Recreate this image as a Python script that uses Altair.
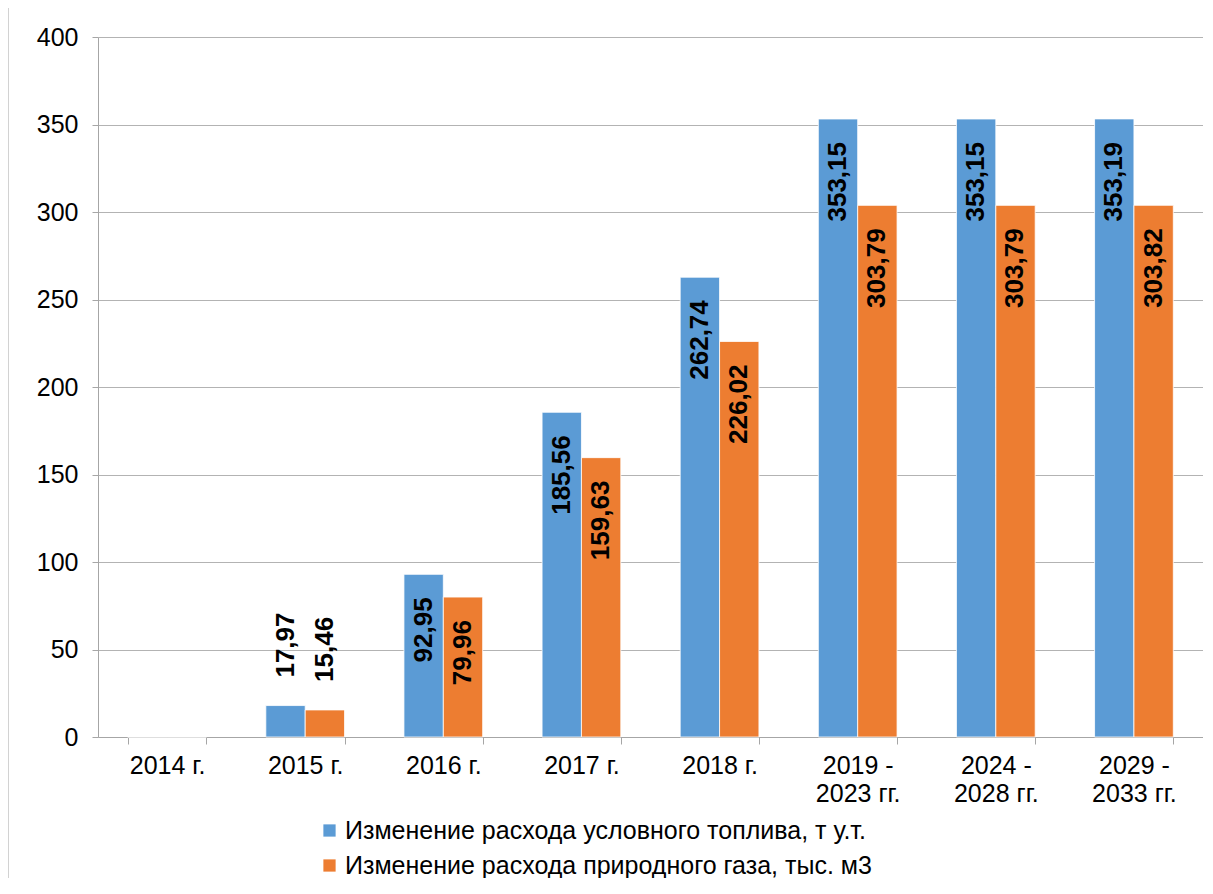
import altair as alt
import pandas as pd

categories = ["2014 г.", "2015 г.", "2016 г.", "2017 г.", "2018 г.",
              "2019 -|2023 гг.", "2024 -|2028 гг.", "2029 -|2033 гг."]
fuel = [0, 17.97, 92.95, 185.56, 262.74, 353.15, 353.15, 353.19]
gas = [0, 15.46, 79.96, 159.63, 226.02, 303.79, 303.79, 303.82]
series = ["Изменение расхода условного топлива, т у.т.",
          "Изменение расхода природного газа, тыс. м3"]
colors = ["#5B9BD5", "#ED7D31"]

rows = []
for s, vals in zip(series, [fuel, gas]):
    for c, v in zip(categories, vals):
        rows.append({"category": c, "series": s, "value": v,
                     "label": f"{v:.2f}".replace(".", ",")})
df = pd.DataFrame(rows)

FONT = "Liberation Sans"

x_enc = alt.X("category:N", sort=categories,
              scale=alt.Scale(paddingInner=0.43, paddingOuter=0.215),
              axis=alt.Axis(title=None, labelAngle=0, tickBand="extent",
                            labelExpr="split(datum.label, '|')",
                            labelFontSize=25, labelFont=FONT, labelColor="#000000",
                            labelLineHeight=28, labelPadding=9, tickSize=7,
                            tickColor="#a6a6a6", domainColor="#a6a6a6",
                            labelBaseline="top"))
xo_enc = alt.XOffset("series:N", sort=series, scale=alt.Scale(paddingInner=0, paddingOuter=0))
y_enc = alt.Y("value:Q", scale=alt.Scale(domain=[0, 400]),
              axis=alt.Axis(title=None, values=list(range(0, 401, 50)),
                            labelFontSize=25, labelFont=FONT, labelColor="#000000",
                            labelPadding=14, tickSize=6, tickColor="#a6a6a6",
                            domainColor="#a6a6a6", gridColor="#b3b3b3", grid=True))

base = alt.Chart(df)

bars = base.mark_bar(stroke="#ffffff", strokeWidth=0.8).encode(
    x=x_enc, xOffset=xo_enc, y=y_enc,
    color=alt.Color("series:N", sort=series,
                    scale=alt.Scale(domain=series, range=colors),
                    legend=alt.Legend(title=None, orient="none", legendX=219, legendY=781,
                                      direction="vertical", symbolType="square",
                                      symbolSize=150, symbolStrokeWidth=0,
                                      labelFontSize=25, labelFont=FONT,
                                      labelColor="#000000", rowPadding=9,
                                      labelOffset=3, labelLimit=0)),
)

inside = base.transform_filter("datum.value > 50").mark_text(
    angle=270, align="right", baseline="middle", dx=-23,
    fontSize=26, fontWeight="bold", font=FONT, color="#000000",
).encode(x=alt.X("category:N", sort=categories), xOffset=xo_enc,
         y=alt.Y("value:Q"), text="label:N")

outside = base.transform_filter("datum.value > 0 && datum.value <= 50").mark_text(
    angle=270, align="left", baseline="middle", dx=28,
    fontSize=26, fontWeight="bold", font=FONT, color="#000000",
).encode(x=alt.X("category:N", sort=categories), xOffset=xo_enc,
         y=alt.Y("value:Q"), text="label:N")

border = alt.Chart(pd.DataFrame({"a": [0]})).mark_rule(color="#a6a6a6", strokeWidth=1).encode(
    x=alt.value(-90), y=alt.value(-29), y2=alt.value(841))

chart = alt.layer(bars, inside, outside, border).properties(
    width=1105, height=700,
    autosize=alt.AutoSizeParams(type="none"),
    padding={"left": 90, "top": 29, "right": 0, "bottom": 141},
).configure_view(stroke=None)

chart.save("out.html", embed_options={"renderer": "svg", "actions": False})
